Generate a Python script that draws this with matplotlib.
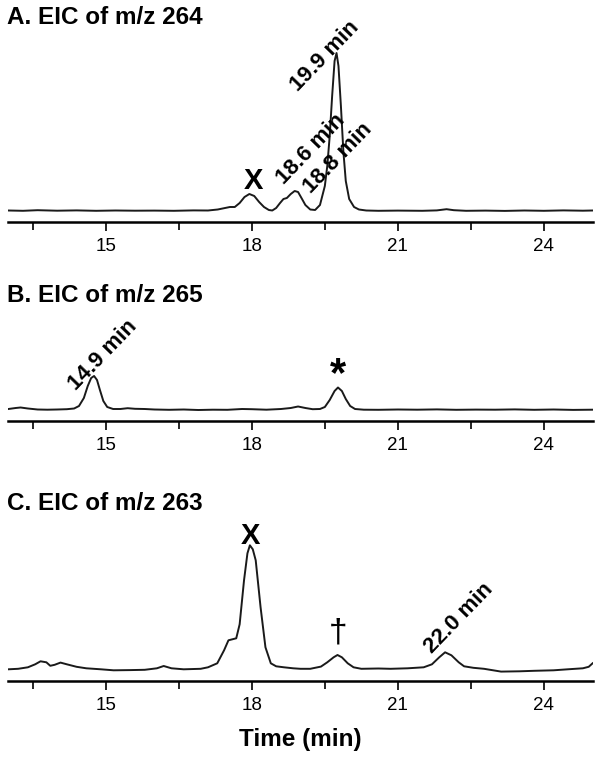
import matplotlib.pyplot as plt
import numpy as np

plt.rcParams['font.family'] = ['Liberation Sans', 'DejaVu Sans']

# A. EIC of m/z 264 (relative intensity, baseline = 0)
time_a = [13.0, 13.3, 13.6, 14.0, 14.4, 14.8, 15.2, 15.6, 16.0, 16.4,
          16.8, 17.1, 17.3, 17.45, 17.55, 17.65, 17.75, 17.85, 17.95, 18.05,
          18.15, 18.25, 18.35, 18.42, 18.5, 18.58, 18.65, 18.72, 18.8, 18.88,
          18.95, 19.02, 19.1, 19.2, 19.3, 19.4, 19.5, 19.55, 19.6, 19.65,
          19.7, 19.74, 19.78, 19.83, 19.88, 19.93, 20.0, 20.1, 20.2, 20.35,
          20.6, 21.0, 21.5, 21.8, 22.0, 22.15, 22.4, 22.8, 23.2, 23.6,
          24.0, 24.4, 24.8, 25.0]
int_a = [0.5, 0.2, 0.8, 0.3, 0.6, 0.2, 0.5, 0.3, 0.4, 0.2,
         0.6, 0.5, 1.5, 3, 4, 4, 8, 14, 17, 15,
         9, 4, 1, 0.5, 3, 8, 12, 13, 17, 20,
         19, 13, 6, 1.5, 1, 6, 25, 45, 75, 115,
         150, 158, 145, 105, 60, 30, 12, 4, 1.5, 0.5,
         0.2, 0.4, 0.2, 0.6, 1.8, 0.8, 0.2, 0.4, 0.1, 0.5,
         0.2, 0.6, 0.3, 0.5]

# B. EIC of m/z 265
time_b = [13.0, 13.15, 13.25, 13.4, 13.6, 13.8, 14.0, 14.2, 14.35, 14.45,
          14.55, 14.63, 14.7, 14.76, 14.82, 14.88, 14.95, 15.03, 15.15, 15.3,
          15.45, 15.6, 15.8, 16.0, 16.3, 16.6, 16.9, 17.2, 17.5, 17.8,
          18.0, 18.3, 18.6, 18.8, 18.95, 19.1, 19.25, 19.4, 19.5, 19.6,
          19.7, 19.77, 19.85, 19.93, 20.02, 20.12, 20.3, 20.6, 21.0, 21.4,
          21.8, 22.2, 22.6, 23.0, 23.4, 23.8, 24.2, 24.6, 25.0]
int_b = [1, 2, 2.5, 1.5, 0.5, 0.3, 0.5, 0.8, 1.5, 4,
         12, 24, 32, 34, 30, 20, 9, 3, 1, 1,
         1.8, 1.2, 1, 0.5, 0.2, 0.5, 0, 0.3, 0.2, 1,
         0.8, 0.3, 1, 2, 3.5, 2, 0.8, 1, 3, 10,
         19, 22.5, 19, 11, 4, 1, 0.3, 0.2, 0.5, 0.3,
         0.6, 0.2, 0.4, 0.3, 0.6, 0.2, 0.5, 0.1, 0.3]

# C. EIC of m/z 263
time_c = [13.0, 13.2, 13.4, 13.55, 13.66, 13.78, 13.86, 13.95, 14.07, 14.2,
          14.4, 14.6, 14.9, 15.16, 15.5, 15.8, 16.05, 16.19, 16.35, 16.6,
          16.95, 17.1, 17.29, 17.43, 17.52, 17.6, 17.68, 17.75, 17.84, 17.91,
          17.96, 18.02, 18.08, 18.18, 18.28, 18.39, 18.5, 18.66, 18.85, 19.0,
          19.2, 19.42, 19.55, 19.68, 19.76, 19.85, 19.97, 20.09, 20.25, 20.6,
          20.85, 21.2, 21.53, 21.7, 21.85, 21.97, 22.1, 22.25, 22.36, 22.55,
          22.77, 23.12, 23.5, 23.8, 24.2, 24.49, 24.8, 24.92, 25.0]
int_c = [0, 0.5, 2, 5, 8, 7, 3.5, 4.5, 6.7, 5,
         2.5, 1, 0, -1, -0.8, -0.5, 1, 3.3, 1, 0,
         0.5, 2, 6, 19, 29, 30, 31, 45, 89, 116,
         124, 120, 109, 62, 22, 6, 3, 2, 1, 0.5,
         0.5, 2.7, 7, 12, 14.3, 12, 6, 2, 0.5, 0.8,
         0.5, 1, 2, 5, 12, 17, 14, 7, 3, 1.5,
         0.5, -2.3, -2, -1.5, -1, 0, 1, 2.5, 6]

major_ticks = [15, 18, 21, 24]
minor_ticks = [13.5, 16.5, 19.5, 22.5]

fig = plt.figure(figsize=(6.01, 7.59), dpi=100)
W, H = 601, 759


def panel(top, bottom, y0):
    # axes placed by pixel rows; y0 = intensity value at the axis line
    ax = fig.add_axes([8.4 / W, 1 - bottom / H, 584.2 / W, (bottom - top) / H])
    ax.set_xlim(13, 25)
    ax.set_ylim(y0, y0 + (bottom - top))
    for s in ['top', 'left', 'right']:
        ax.spines[s].set_visible(False)
    ax.spines['bottom'].set_linewidth(1.8)
    ax.set_yticks([])
    ax.set_xticks(major_ticks)
    ax.set_xticks(minor_ticks, minor=True)
    ax.tick_params(axis='x', which='major', direction='out', length=6.5,
                   width=1.2, labelsize=13.5, pad=5)
    ax.tick_params(axis='x', which='minor', direction='out', length=5.5, width=1.2)
    ax.patch.set_visible(False)
    return ax


txt = dict(fontweight='bold', fontsize=16, ha='center', va='center',
           rotation=46, rotation_mode='anchor')
title = dict(fontweight='bold', fontsize=17.5, ha='left', va='center')

# panel A
ax = panel(40, 222, -11)
ax.plot(time_a, int_a, color='#1a1a1a', lw=1.4)
ax.text(18.04, 30, 'X', fontweight='bold', fontsize=21, ha='center', va='center')
ax.text(19.50, 155, '19.9 min', **txt)
ax.text(19.22, 62, '18.6 min', **txt)
ax.text(19.77, 53, '18.8 min', **txt)
fig.text(7 / W, 1 - 17.5 / H, 'A. EIC of m/z 264', **title)

# panel B
ax = panel(300, 421, -11)
ax.plot(time_b, int_b, color='#1a1a1a', lw=1.4)
ax.text(14.95, 55, '14.9 min', **txt)
ax.text(19.77, 35, '*', fontweight='bold', fontsize=30, ha='center', va='center')
fig.text(7 / W, 1 - 296 / H, 'B. EIC of m/z 265', **title)

# panel C
ax = panel(520, 680.7, -11.4)
ax.plot(time_c, int_c, color='#1a1a1a', lw=1.4)
ax.text(17.98, 133, 'X', fontweight='bold', fontsize=21, ha='center', va='center')
ax.text(19.77, 36, '\u2020', fontsize=24, ha='center', va='center')
ax.text(22.26, 51, '22.0 min', **txt)
ax.set_xlabel('Time (min)', fontweight='bold', fontsize=17.5, labelpad=10)
fig.text(7 / W, 1 - 503 / H, 'C. EIC of m/z 263', **title)

fig.savefig('out.png', dpi=100)
